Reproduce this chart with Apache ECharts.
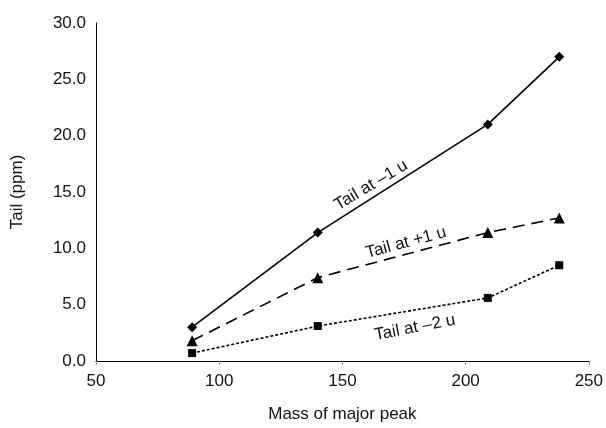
<!DOCTYPE html>
<html>
<head>
<meta charset="utf-8">
<script src="https://cdn.jsdelivr.net/npm/echarts@6/dist/echarts.min.js"></script>
<style>
  html, body { margin: 0; padding: 0; background: #fff; }
  #main { width: 606px; height: 428px; }
</style>
</head>
<body>
<div id="main"></div>
<script>
// data
var masses = [89, 140, 209, 238];
var tailMinus1 = [3.0, 11.4, 21.0, 27.0];
var tailPlus1 = [1.8, 7.4, 11.4, 12.7];
var tailMinus2 = [0.7, 3.1, 5.6, 8.5];

// annotation texts, anchored in data space [mass, ppm], rotation in degrees
var noteTexts = ['Tail at \u20131 u', 'Tail at +1 u', 'Tail at \u20132 u'];
var noteAnchors = [[161.6, 15.6], [175.8, 10.5], [179.4, 2.96]];
var noteAngles = [31, 15, 11];

function pairs(xs, ys) {
  var out = [];
  for (var i = 0; i < xs.length; i++) out.push([xs[i], ys[i]]);
  return out;
}

var font = '"Liberation Sans", Arial, sans-serif';
var myChart = echarts.init(document.getElementById('main'));

var option = {
  animation: false,
  textStyle: { fontFamily: font, color: '#111' },
  grid: { left: 96, right: 17, top: 23, bottom: 61 },
  xAxis: {
    type: 'value',
    min: 50, max: 250, interval: 50,
    name: 'Mass of major peak',
    nameLocation: 'middle',
    nameGap: 45,
    nameTextStyle: { fontSize: 17, color: '#111', fontFamily: font },
    axisLine: { onZero: false, lineStyle: { color: '#000', width: 1 } },
    axisTick: { show: true, length: 4, lineStyle: { color: '#999' } },
    axisLabel: { fontSize: 17, color: '#111', margin: 12, fontFamily: font },
    splitLine: { show: false }
  },
  yAxis: {
    type: 'value',
    min: 0, max: 30, interval: 5,
    name: 'Tail (ppm)',
    nameLocation: 'middle',
    nameGap: 70,
    nameRotate: 90,
    nameTextStyle: { fontSize: 17, color: '#111', fontFamily: font },
    axisLine: { show: true, lineStyle: { color: '#000', width: 1 } },
    axisTick: { show: false },
    axisLabel: {
      fontSize: 17, color: '#111', margin: 10, fontFamily: font,
      formatter: function (v) { return v.toFixed(1); }
    },
    splitLine: { show: false }
  },
  series: [
    {
      name: 'Tail at -1 u',
      type: 'line',
      data: pairs(masses, tailMinus1),
      symbol: 'diamond', symbolSize: 10,
      itemStyle: { color: '#000' },
      lineStyle: { color: '#000', width: 1.6, type: 'solid' }
    },
    {
      name: 'Tail at +1 u',
      type: 'line',
      data: pairs(masses, tailPlus1),
      symbol: 'triangle', symbolSize: 11,
      itemStyle: { color: '#000' },
      lineStyle: { color: '#000', width: 1.6, type: [12, 7] }
    },
    {
      name: 'Tail at -2 u',
      type: 'line',
      data: pairs(masses, tailMinus2),
      symbol: 'rect', symbolSize: 8,
      itemStyle: { color: '#000' },
      lineStyle: { color: '#000', width: 1.6, type: [3, 2] }
    }
  ]
};
myChart.setOption(option);

// place the rotated annotations through the chart's own coordinate system
var notes = [];
for (var i = 0; i < noteTexts.length; i++) {
  var p = myChart.convertToPixel({ gridIndex: 0 }, noteAnchors[i]);
  notes.push({
    type: 'text',
    x: p[0], y: p[1],
    rotation: noteAngles[i] * Math.PI / 180,
    style: {
      text: noteTexts[i],
      fontSize: 17,
      fontFamily: font,
      fill: '#111',
      align: 'center',
      verticalAlign: 'middle'
    }
  });
}
myChart.setOption({ graphic: notes });
</script>
</body>
</html>
